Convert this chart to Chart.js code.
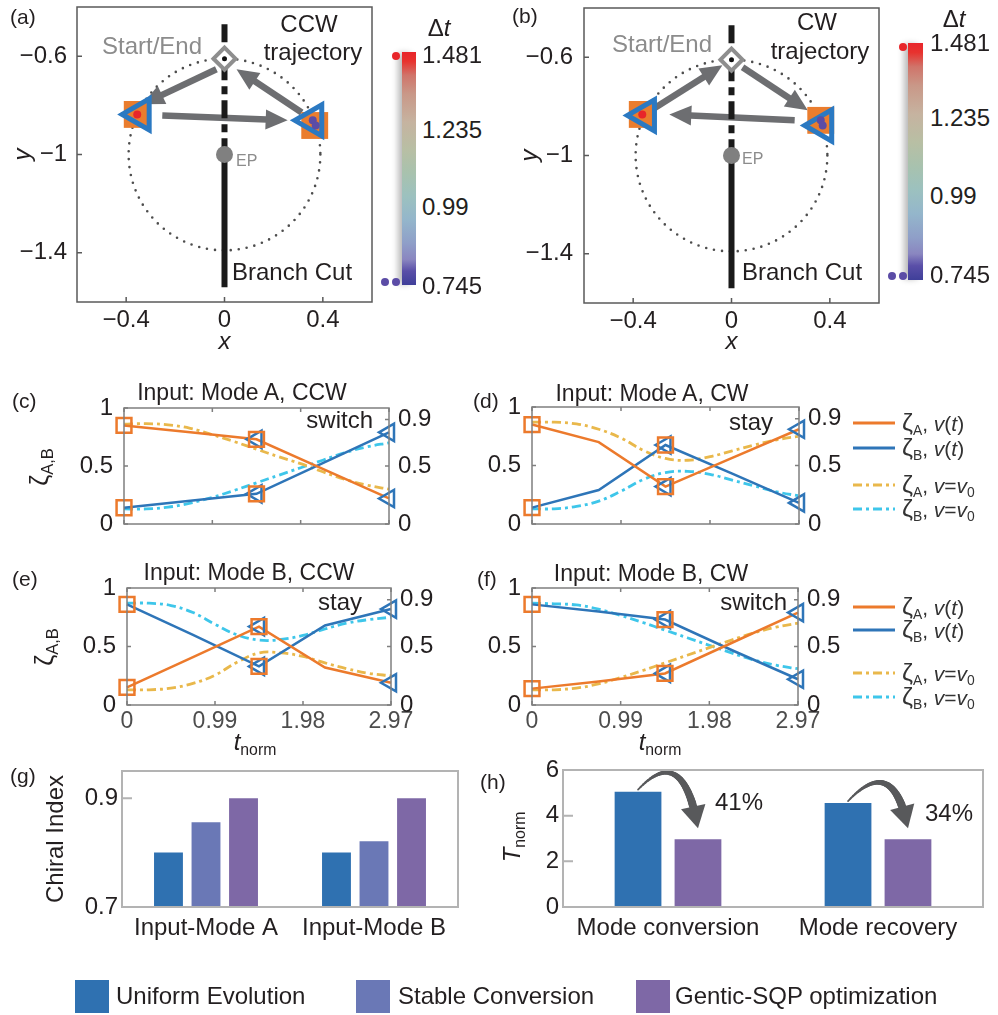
<!DOCTYPE html>
<html>
<head>
<meta charset="utf-8">
<script src="https://cdn.jsdelivr.net/npm/chart.js@4.4.0/dist/chart.umd.min.js"></script>
<style>
body { margin: 0; background: #fff; width: 998px; height: 1015px; position: relative; overflow: hidden;
  font-family: "Liberation Sans", Arial, sans-serif; color: #231f20; }
canvas { position: absolute; }
.t { position: absolute; white-space: nowrap; line-height: 1; }
.t sub { font-size: 0.66em; vertical-align: baseline; position: relative; top: 0.3em; }
.z { font-size: 1.18em; }
.sq { position: absolute; }
</style>
</head>
<body>
<script>
// ---------- data ----------
// (a), (b): parameter plane
const xTicksAB = [-0.4, 0, 0.4];
const yTicksAB = [-0.6, -1, -1.4];
const ep = { x: 0, y: -1 };
const loopR = 0.39;
const cutTop = -0.47, cutBottom = -1.54;
const startEnd = { x: 0, y: -0.61 };
const squaresA = [{ x: -0.355, y: -0.837 }, { x: 0.367, y: -0.882 }];
const trianglesA = [{ x: -0.343, y: -0.837 }, { x: 0.359, y: -0.861 }];
const redA = [{ x: -0.355, y: -0.837 }];
const purpleA = [{ x: 0.359, y: -0.861 }, { x: 0.371, y: -0.882 }];
const arrowsA = [[-0.033, -0.653, -0.335, -0.796], [-0.253, -0.841, 0.257, -0.861], [0.314, -0.829, 0.049, -0.653]];
const squaresB = [{ x: -0.363, y: -0.833 }, { x: 0.363, y: -0.857 }];
const trianglesB = [{ x: -0.35, y: -0.837 }, { x: 0.371, y: -0.878 }];
const redB = [{ x: -0.363, y: -0.833 }];
const purpleB = [{ x: 0.363, y: -0.857 }, { x: 0.371, y: -0.878 }];
const arrowsB = [[-0.327, -0.816, -0.037, -0.633], [0.045, -0.641, 0.31, -0.816], [0.257, -0.857, -0.253, -0.833]];
const dtLabels = ['1.481', '1.235', '0.99', '0.745'];

// (c)-(f): mode populations
const tV = [0, 0.7425, 1.485, 2.2275, 2.97];
const t0 = [0, 0.2475, 0.495, 0.7425, 0.99, 1.2375, 1.485, 1.7325, 1.98, 2.2275, 2.475, 2.7225, 2.97];
const tTicks = [0, 0.99, 1.98, 2.97];
const zTicksL = [0, 0.5, 1];
const zTicksR = [0, 0.5, 0.9];

const cA = [0.85, 0.79, 0.73, 0.475, 0.22];
const cB = [0.14, 0.20, 0.26, 0.525, 0.79];
const cA0 = [0.86, 0.865, 0.855, 0.825, 0.77, 0.71, 0.645, 0.58, 0.52, 0.45, 0.385, 0.335, 0.30];
const cB0 = [0.13, 0.13, 0.145, 0.18, 0.23, 0.29, 0.355, 0.42, 0.485, 0.55, 0.615, 0.665, 0.70];

const dA = [0.85, 0.70, 0.32, 0.565, 0.81];
const dB = [0.14, 0.29, 0.675, 0.43, 0.18];
const dA0 = [0.87, 0.87, 0.855, 0.81, 0.735, 0.63, 0.56, 0.545, 0.575, 0.625, 0.675, 0.72, 0.75];
const dB0 = [0.13, 0.13, 0.15, 0.195, 0.28, 0.38, 0.44, 0.45, 0.425, 0.375, 0.325, 0.275, 0.24];

const eA = [0.15, 0.41, 0.67, 0.32, 0.19];
const eB = [0.86, 0.60, 0.33, 0.68, 0.82];
const eA0 = [0.13, 0.13, 0.145, 0.185, 0.255, 0.365, 0.445, 0.445, 0.415, 0.36, 0.31, 0.27, 0.25];
const eB0 = [0.87, 0.87, 0.85, 0.79, 0.69, 0.60, 0.555, 0.56, 0.595, 0.65, 0.70, 0.73, 0.75];

const fA = [0.14, 0.20, 0.27, 0.53, 0.79];
const fB = [0.86, 0.80, 0.73, 0.47, 0.22];
const fA0 = [0.13, 0.13, 0.145, 0.18, 0.235, 0.295, 0.36, 0.425, 0.49, 0.555, 0.615, 0.665, 0.70];
const fB0 = [0.87, 0.865, 0.855, 0.82, 0.765, 0.705, 0.64, 0.575, 0.51, 0.445, 0.385, 0.34, 0.31];

// (g) chiral index
const chiralGroups = ['Input-Mode A', 'Input-Mode B'];
const chiralUniform = [0.80, 0.80];
const chiralStable = [0.856, 0.821];
const chiralGenetic = [0.90, 0.90];
const chiralTicks = [0.7, 0.9];

// (h) normalised time
const timeGroups = ['Mode conversion', 'Mode recovery'];
const timeUniform = [5.05, 4.55];
const timeGenetic = [2.97, 2.97];
const timeTicks = [0, 2, 4, 6];
const timeSaving = ['41%', '34%'];

// ---------- styles ----------
const ORANGE = '#ec7a2c', BLUE = '#2e75b8', YELLOW = '#e9b84b', CYAN = '#3ec6ea';
const C_UNI = '#2f71b1', C_STA = '#6a78b6', C_GEN = '#7e68a6';
const INK = '#231f20';
const DASHDOT = [9, 4, 3, 4];

Chart.defaults.font.family = '"Liberation Sans", Arial, sans-serif';
Chart.defaults.color = INK;
Chart.defaults.plugins.legend.display = false;
Chart.defaults.plugins.tooltip.enabled = false;

const fmt = v => String(v).replace('-', '\u2212');
const fixTicks = arr => s => { s.ticks = arr.map(v => ({ value: v })); };
const noGrid = { display: false, drawTicks: false };

// box round the plot area + inward tick marks
const boxPlugin = {
    id: 'box',
    afterDraw(chart, args, o) {
        const { ctx, chartArea: a } = chart;
        ctx.save();
        ctx.strokeStyle = o.color;
        ctx.lineWidth = o.width;
        ctx.strokeRect(a.left, a.top, a.width, a.height);
        ctx.beginPath();
        Object.values(chart.scales).forEach(s => {
            if (s.type === 'category') return;
            s.ticks.forEach(t => {
                const p = s.getPixelForValue(t.value);
                if (s.isHorizontal()) {
                    ctx.moveTo(p, a.bottom); ctx.lineTo(p, a.bottom - o.len);
                    if (o.mirror) { ctx.moveTo(p, a.top); ctx.lineTo(p, a.top + o.len); }
                } else if (s.position === 'left') {
                    ctx.moveTo(a.left, p); ctx.lineTo(a.left + o.len, p);
                } else {
                    ctx.moveTo(a.right, p); ctx.lineTo(a.right - o.len, p);
                }
            });
        });
        ctx.stroke();
        ctx.restore();
    }
};

// dotted loop and straight arrows for (a), (b)
const planePlugin = {
    id: 'plane',
    beforeDatasetsDraw(chart, args, o) {
        const { ctx, scales: { x, y } } = chart;
        const cx = x.getPixelForValue(ep.x), cy = y.getPixelForValue(ep.y);
        const r = x.getPixelForValue(ep.x + loopR) - cx;
        ctx.save();
        ctx.setLineDash([0, 8]);
        ctx.lineCap = 'round';
        ctx.lineWidth = 2.6;
        ctx.strokeStyle = '#4d4d4d';
        ctx.beginPath();
        ctx.arc(cx, cy, r, 0, 2 * Math.PI);
        ctx.stroke();
        ctx.setLineDash([]);
        ctx.lineCap = 'butt';
        ctx.strokeStyle = ctx.fillStyle = '#6d6e71';
        o.arrows.forEach(a => {
            const x0 = x.getPixelForValue(a[0]), y0 = y.getPixelForValue(a[1]);
            const x1 = x.getPixelForValue(a[2]), y1 = y.getPixelForValue(a[3]);
            const L = Math.hypot(x1 - x0, y1 - y0), ux = (x1 - x0) / L, uy = (y1 - y0) / L;
            const hl = 22, hw = 10;
            const bx = x1 - ux * hl, by = y1 - uy * hl;
            ctx.lineWidth = 6.5;
            ctx.beginPath(); ctx.moveTo(x0, y0); ctx.lineTo(bx + ux, by + uy); ctx.stroke();
            ctx.beginPath();
            ctx.moveTo(x1, y1);
            ctx.lineTo(bx - uy * hw, by + ux * hw);
            ctx.lineTo(bx + uy * hw, by - ux * hw);
            ctx.closePath();
            ctx.fill();
        });
        ctx.restore();
    }
};

// curved reduction arrows for (h)
const bendPlugin = {
    id: 'bend',
    afterDatasetsDraw(chart) {
        const { ctx } = chart;
        const from = chart.getDatasetMeta(0).data, to = chart.getDatasetMeta(1).data;
        ctx.save();
        ctx.strokeStyle = ctx.fillStyle = '#58595b';
        ctx.lineCap = 'round';
        from.forEach((b, i) => {
            const p = to[i];
            const x0 = b.x, y0 = b.y - 2, x1 = p.x, y1 = p.y - 11;
            const cx = x0 + 0.75 * (x1 - x0), cy = y0 - 48;
            const at = t => ({
                x: (1 - t) * (1 - t) * x0 + 2 * (1 - t) * t * cx + t * t * x1,
                y: (1 - t) * (1 - t) * y0 + 2 * (1 - t) * t * cy + t * t * y1
            });
            const hl = 22, hw = 12.5;
            let tEnd = 1;
            while (tEnd > 0 && Math.hypot(at(tEnd).x - x1, at(tEnd).y - y1) < hl) tEnd -= 0.005;
            const N = 30;
            for (let k = 0; k < N; k++) {
                const a = at(tEnd * k / N), c = at(tEnd * (k + 1) / N);
                ctx.lineWidth = 1.5 + 6.5 * (k + 1) / N;
                ctx.beginPath(); ctx.moveTo(a.x, a.y); ctx.lineTo(c.x, c.y); ctx.stroke();
            }
            const base = at(tEnd);
            const L = Math.hypot(x1 - base.x, y1 - base.y), ux = (x1 - base.x) / L, uy = (y1 - base.y) / L;
            ctx.beginPath();
            ctx.moveTo(x1, y1);
            ctx.lineTo(base.x - uy * hw, base.y + ux * hw);
            ctx.lineTo(base.x + uy * hw, base.y - ux * hw);
            ctx.closePath();
            ctx.fill();
        });
        ctx.restore();
    }
};

// canvas placed on the page, chart area pinned to [x0,y0,x1,y1]
function makeChart(rect, area, config) {
    const [L, T, W, H] = rect, [x0, y0, x1, y1] = area;
    const cv = document.createElement('canvas');
    cv.width = W; cv.height = H;
    cv.style.left = L + 'px'; cv.style.top = T + 'px';
    document.body.appendChild(cv);
    const o = config.options;
    o.responsive = false;
    o.animation = false;
    o.devicePixelRatio = 1;
    const hasRight = !!o.scales.y2;
    o.layout = { autoPadding: false, padding: { left: 0, top: y0 - T, right: hasRight ? 0 : L + W - x1, bottom: 0 } };
    o.scales.x.afterFit = s => { s.height = T + H - y1; s.paddingLeft = 0; s.paddingRight = 0; };
    const fitW = w => s => { s.width = w; s.paddingTop = 0; s.paddingBottom = 0; };
    o.scales.y.afterFit = fitW(x0 - L);
    if (hasRight) o.scales.y2.afterFit = fitW(L + W - x1);
    return new Chart(cv, config);
}

// ---------- (a), (b) ----------
function planeChart(rect, area, sq, tri, red, purple, arrows, yTitlePad, yTickPad) {
    return makeChart(rect, area, {
        type: 'scatter',
        data: {
            datasets: [
                { data: red, pointRadius: 4, pointBackgroundColor: '#e8262a', pointBorderWidth: 0 },
                { data: purple, pointRadius: 4, pointBackgroundColor: '#5b4ca6', pointBorderWidth: 0 },
                { data: tri, pointStyle: 'triangle', pointRotation: -90, pointRadius: 18, pointBorderWidth: 5,
                  pointBorderColor: '#2b79c2', pointBackgroundColor: 'rgba(0,0,0,0)' },
                { data: sq, pointStyle: 'rect', pointRadius: 19, pointBackgroundColor: '#ea7d2e', pointBorderWidth: 0 },
                { data: [startEnd], pointRadius: 2.5, pointBackgroundColor: '#111', pointBorderWidth: 0 },
                { data: [startEnd], pointStyle: 'rectRot', pointRadius: 11, pointBorderWidth: 4,
                  pointBorderColor: '#8e8e8e', pointBackgroundColor: '#fff' },
                { data: [ep], pointRadius: 8.5, pointBackgroundColor: '#808080', pointBorderWidth: 0 },
                { data: [{ x: 0, y: cutTop }, { x: 0, y: ep.y }], showLine: true, borderColor: '#1a1a1a',
                  borderWidth: 6, borderDash: [18, 6, 8, 6], pointRadius: 0 },
                { data: [{ x: 0, y: ep.y }, { x: 0, y: cutBottom }], showLine: true, borderColor: '#1a1a1a',
                  borderWidth: 6, pointRadius: 0 }
            ].map(d => Object.assign(d, { clip: false }))
        },
        options: {
            scales: {
                x: {
                    type: 'linear', min: -0.6, max: 0.6,
                    grid: noGrid, border: { display: false },
                    afterBuildTicks: fixTicks(xTicksAB),
                    ticks: { padding: 4, font: { size: 24 }, callback: v => fmt(v) },
                    title: { display: true, text: 'x', font: { size: 24, style: 'italic' }, padding: { top: 0, bottom: 3 } }
                },
                y: {
                    type: 'linear', min: -1.6, max: -0.4,
                    grid: noGrid, border: { display: false },
                    afterBuildTicks: fixTicks(yTicksAB),
                    ticks: { padding: yTickPad, font: { size: 24 }, callback: v => fmt(v) },
                    title: { display: true, text: 'y', font: { size: 24, style: 'italic' }, padding: { top: yTitlePad, bottom: 0 } }
                }
            },
            plugins: {
                box: { color: '#5a5a5a', width: 1.5, len: 5 },
                plane: { arrows: arrows }
            }
        },
        plugins: [planePlugin, boxPlugin]
    });
}

planeChart([0, 0, 385, 360], [77, 7, 372, 302], squaresA, trianglesA, redA, purpleA, arrowsA, 9, 10);
planeChart([500, 0, 385, 360], [584, 8, 879, 303], squaresB, trianglesB, redB, purpleB, arrowsB, 16, 11);

// ---------- (c)-(f) ----------
const pts = (ts, vs) => ts.map((t, i) => ({ x: t, y: vs[i] }));

function zetaChart(rect, area, A, B, A0, B0, showX) {
    const sqPts = [{ x: tV[0], y: A[0] }, { x: tV[0], y: B[0] }, { x: tV[2], y: A[2] }, { x: tV[2], y: B[2] }];
    const triPts = [{ x: tV[2], y: A[2] }, { x: tV[2], y: B[2] }, { x: tV[4], y: A[4] }, { x: tV[4], y: B[4] }];
    return makeChart(rect, area, {
        type: 'scatter',
        data: {
            datasets: [
                { data: sqPts, pointStyle: 'rect', pointRadius: 10.5, pointBorderWidth: 2.5,
                  pointBorderColor: ORANGE, pointBackgroundColor: 'rgba(255,255,255,0)' },
                { data: triPts, pointStyle: 'triangle', pointRotation: -90, pointRadius: 10, pointBorderWidth: 2.5,
                  pointBorderColor: BLUE, pointBackgroundColor: 'rgba(255,255,255,0)' },
                { data: pts(tV, A), showLine: true, borderColor: ORANGE, borderWidth: 2.5, pointRadius: 0 },
                { data: pts(tV, B), showLine: true, borderColor: BLUE, borderWidth: 2.5, pointRadius: 0 },
                { data: pts(t0, A0), showLine: true, borderColor: YELLOW, borderWidth: 2.8, borderDash: DASHDOT,
                  tension: 0.4, pointRadius: 0 },
                { data: pts(t0, B0), showLine: true, borderColor: CYAN, borderWidth: 2.8, borderDash: DASHDOT,
                  tension: 0.4, pointRadius: 0 }
            ].map(d => Object.assign(d, { clip: false }))
        },
        options: {
            scales: {
                x: {
                    type: 'linear', min: 0, max: 2.97,
                    grid: noGrid, border: { display: false },
                    afterBuildTicks: fixTicks(tTicks),
                    ticks: { display: showX, padding: 3, color: '#4d4d4d', font: { size: 23 }, callback: v => String(v) }
                },
                y: {
                    type: 'linear', min: 0, max: 1,
                    grid: noGrid, border: { display: false },
                    afterBuildTicks: fixTicks(zTicksL),
                    ticks: { padding: 11, font: { size: 24 }, callback: v => String(v) }
                },
                y2: {
                    type: 'linear', position: 'right', min: 0, max: 1,
                    grid: noGrid, border: { display: false },
                    afterBuildTicks: fixTicks(zTicksR),
                    ticks: { padding: 9, font: { size: 24 }, callback: v => String(v) }
                }
            },
            plugins: { box: { color: '#7f7f7f', width: 1.5, len: 4, mirror: true } }
        },
        plugins: [boxPlugin]
    });
}

zetaChart([30, 380, 410, 160], [124, 408, 389, 524], cA, cB, cA0, cB0, false);
zetaChart([440, 380, 410, 160], [532, 407, 799, 524], dA, dB, dA0, dB0, false);
zetaChart([30, 560, 410, 190], [127, 588, 391, 705], eA, eB, eA0, eB0, true);
zetaChart([440, 560, 410, 190], [532, 588, 798, 705], fA, fB, fA0, fB0, true);

// ---------- (g) ----------
makeChart([30, 750, 440, 200], [122, 771, 458, 907], {
    type: 'bar',
    data: {
        labels: chiralGroups,
        datasets: [
            { data: chiralUniform, backgroundColor: C_UNI },
            { data: chiralStable, backgroundColor: C_STA },
            { data: chiralGenetic, backgroundColor: C_GEN }
        ]
    },
    options: {
        datasets: { bar: { categoryPercentage: 0.67, barPercentage: 0.77 } },
        scales: {
            x: { grid: noGrid, border: { display: false }, ticks: { padding: 7, font: { size: 24 } } },
            y: {
                min: 0.7, max: 0.95,
                grid: noGrid, border: { display: false },
                afterBuildTicks: fixTicks(chiralTicks),
                ticks: { padding: 4, font: { size: 24 }, callback: v => v.toFixed(1) },
                title: { display: true, text: 'Chiral Index', font: { size: 24 }, padding: { top: 12, bottom: 0 } }
            }
        },
        plugins: { box: { color: '#b3b3b3', width: 2, len: 10 } }
    },
    plugins: [boxPlugin]
});

// ---------- (h) ----------
makeChart([480, 750, 512, 200], [563, 770, 983, 907], {
    type: 'bar',
    data: {
        labels: timeGroups,
        datasets: [
            { data: timeUniform, backgroundColor: C_UNI },
            { data: timeGenetic, backgroundColor: C_GEN }
        ]
    },
    options: {
        datasets: { bar: { categoryPercentage: 0.571, barPercentage: 0.78 } },
        scales: {
            x: { grid: noGrid, border: { display: false }, ticks: { padding: 7, font: { size: 24 } } },
            y: {
                min: 0, max: 6,
                grid: noGrid, border: { display: false },
                afterBuildTicks: fixTicks(timeTicks),
                ticks: { padding: 4, font: { size: 24 } }
            }
        },
        plugins: { box: { color: '#b3b3b3', width: 2, len: 10 } }
    },
    plugins: [bendPlugin, boxPlugin]
});

// ---------- text and decorations ----------
function label(html, x, y, o = {}) {
    const d = document.createElement('div');
    d.className = 't';
    d.innerHTML = html;
    d.style.left = x + 'px';
    d.style.top = y + 'px';
    d.style.fontSize = (o.size || 24) + 'px';
    if (o.color) d.style.color = o.color;
    const ax = o.align === 'left' ? '0' : o.align === 'right' ? '-100%' : '-50%';
    d.style.transform = `translate(${ax},-50%)` + (o.rot ? ` rotate(${o.rot}deg)` : '');
    document.body.appendChild(d);
}

function colorbar(x, y, w, h) {
    const d = document.createElement('div');
    d.className = 'sq';
    Object.assign(d.style, {
        left: x + 'px', top: y + 'px', width: w + 'px', height: h + 'px',
        background: 'linear-gradient(to bottom, #e8252b 0%, #e8322e 4%, #d0746a 10%, #c99888 18%, #c6b3a0 30%, ' +
            '#b8bfa4 42%, #a8c2ae 52%, #9cc1bf 62%, #94b6cb 72%, #8f9fc8 82%, #8a86c0 89%, #5a4fa8 94%, #3f3f99 100%)',
        boxShadow: '-5px 0 6px -1px rgba(0,0,0,0.28)'
    });
    document.body.appendChild(d);
}

function dot(x, y, c) {
    const d = document.createElement('div');
    d.className = 'sq';
    Object.assign(d.style, { left: (x - 4) + 'px', top: (y - 4) + 'px', width: '8px', height: '8px',
        borderRadius: '50%', background: c });
    document.body.appendChild(d);
}

const GREY = '#8c8c8c';
// (a)
label('(a)', 10, 16, { align: 'left', size: 21 });
label('Start/End', 152, 46, { color: GREY });
label('CCW', 309, 24);
label('trajectory', 313, 52);
label('Branch Cut', 232, 272, { align: 'left' });
label('EP', 236, 161, { align: 'left', size: 16, color: GREY });
colorbar(402, 52, 14, 233);
label('Δ<i>t</i>', 439, 28);
[55, 130, 207, 286].forEach((y, i) => label(dtLabels[i], 422, y, { align: 'left' }));
dot(396, 56, '#e8262a'); dot(385, 282, '#5b4ca6'); dot(396, 282, '#5b4ca6');
// (b)
label('(b)', 512, 15, { align: 'left', size: 21 });
label('Start/End', 662, 44, { color: GREY });
label('CW', 817, 22);
label('trajectory', 820, 51);
label('Branch Cut', 742, 272, { align: 'left' });
label('EP', 742, 159, { align: 'left', size: 16, color: GREY });
colorbar(908, 43, 15, 237);
label('Δ<i>t</i>', 954, 19);
[43, 118, 196, 275].forEach((y, i) => label(dtLabels[i], 930, y, { align: 'left' }));
dot(903, 47, '#e8262a'); dot(892, 276, '#5b4ca6'); dot(903, 276, '#5b4ca6');

// (c)-(f)
label('(c)', 12, 400, { align: 'left', size: 21 });
label('(d)', 473, 400, { align: 'left', size: 21 });
label('(e)', 12, 578, { align: 'left', size: 21 });
label('(f)', 477, 578, { align: 'left', size: 21 });
label('Input: Mode A, CCW', 242, 392, { size: 23 });
label('Input: Mode A, CW', 652, 393, { size: 23 });
label('Input: Mode B, CCW', 249, 572, { size: 23 });
label('Input: Mode B, CW', 651, 573, { size: 23 });
label('switch', 373, 420, { align: 'right' });
label('stay', 773, 422, { align: 'right' });
label('stay', 362, 602, { align: 'right' });
label('switch', 787, 602, { align: 'right' });
label('ζ<sub>A,B</sub>', 39, 467, { rot: -90, size: 25 });
label('ζ<sub>A,B</sub>', 44, 647, { rot: -90, size: 25 });
label('<i>t</i><sub>norm</sub>', 255, 742);
label('<i>t</i><sub>norm</sub>', 660, 742);

// legend lines for (c)-(f)
const svgNS = 'http://www.w3.org/2000/svg';
const svg = document.createElementNS(svgNS, 'svg');
svg.setAttribute('width', 998); svg.setAttribute('height', 1015);
svg.style.position = 'absolute'; svg.style.left = '0'; svg.style.top = '0';
document.body.appendChild(svg);
const legendEntries = [
    { color: ORANGE, dash: null, html: '<span class="z">ζ</span><sub>A</sub>, <i>v</i>(<i>t</i>)' },
    { color: BLUE, dash: null, html: '<span class="z">ζ</span><sub>B</sub>, <i>v</i>(<i>t</i>)' },
    { color: YELLOW, dash: DASHDOT.join(' '), html: '<span class="z">ζ</span><sub>A</sub>, <i>v</i>=<i>v</i><sub>0</sub>' },
    { color: CYAN, dash: DASHDOT.join(' '), html: '<span class="z">ζ</span><sub>B</sub>, <i>v</i>=<i>v</i><sub>0</sub>' }
];
[[423, 448, 485, 509], [607, 630, 673, 697]].forEach(ys => {
    ys.forEach((y, i) => {
        const e = legendEntries[i];
        const ln = document.createElementNS(svgNS, 'line');
        ln.setAttribute('x1', 853); ln.setAttribute('x2', 895);
        ln.setAttribute('y1', y); ln.setAttribute('y2', y);
        ln.setAttribute('stroke', e.color); ln.setAttribute('stroke-width', 2.8);
        if (e.dash) ln.setAttribute('stroke-dasharray', e.dash);
        svg.appendChild(ln);
        label(e.html, 902, y, { align: 'left', size: 21, color: '#333' });
    });
});

// (g), (h)
label('(g)', 10, 775, { align: 'left', size: 21 });
label('(h)', 480, 781, { align: 'left', size: 21 });
label('<i>T</i><sub>norm</sub>', 512, 837, { rot: -90 });
label(timeSaving[0], 715, 802, { align: 'left' });
label(timeSaving[1], 925, 813, { align: 'left' });

// bottom legend
[[75, C_UNI, 116, 'Uniform Evolution'], [356, C_STA, 398, 'Stable Conversion'], [636, C_GEN, 675, 'Gentic-SQP optimization']]
    .forEach(([x, c, tx, txt]) => {
        const d = document.createElement('div');
        d.className = 'sq';
        Object.assign(d.style, { left: x + 'px', top: '980px', width: '34px', height: '33px', background: c });
        document.body.appendChild(d);
        label(txt, tx, 996, { align: 'left' });
    });
</script>
</body>
</html>
